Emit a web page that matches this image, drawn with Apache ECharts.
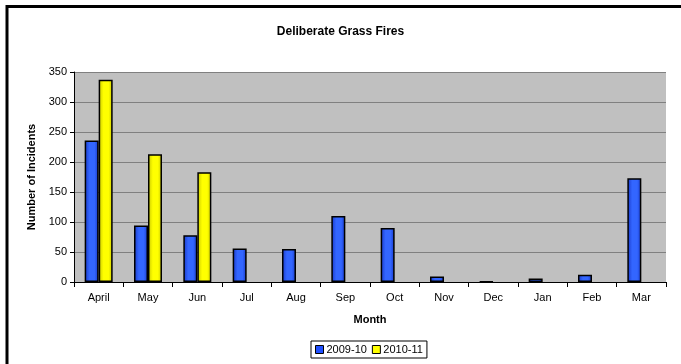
<!DOCTYPE html>
<html>
<head>
<meta charset="utf-8">
<script src="https://cdn.jsdelivr.net/npm/echarts@6/dist/echarts.min.js"></script>
<style>
html, body { margin: 0; padding: 0; background: #fff; }
#chart { width: 681px; height: 364px; }
</style>
</head>
<body>
<div id="chart"></div>
<script>
const months = ['April', 'May', 'Jun', 'Jul', 'Aug', 'Sep', 'Oct', 'Nov', 'Dec', 'Jan', 'Feb', 'Mar'];
const fires0910 = [236, 94, 78, 56, 55, 110, 90, 9, 1, 6, 12, 173];
const fires1011 = [337, 213, 183, null, null, null, null, null, null, null, null, null];
const yTicks = [0, 50, 100, 150, 200, 250, 300, 350];

const font = 'Arial, "Liberation Sans", sans-serif';
let chart = echarts.init(document.getElementById('chart'));

function shade(dark, light) {
    return new echarts.graphic.LinearGradient(0, 0, 1, 0, [
        { offset: 0, color: dark },
        { offset: 0.35, color: light },
        { offset: 0.7, color: light },
        { offset: 1, color: dark }
    ]);
}

let option = {
    animation: false,
    title: {
        text: 'Deliberate Grass Fires',
        left: 'center',
        top: 21,
        textStyle: { fontFamily: font, fontSize: 12, fontWeight: 'bold', color: '#000' }
    },
    graphic: [{
        type: 'rect',
        shape: { x: 7, y: 6.5, width: 680, height: 400 },
        style: { fill: 'none', stroke: '#000', lineWidth: 3 },
        silent: true
    }],
    legend: {
        bottom: 6,
        left: 311,
        itemWidth: 8,
        itemHeight: 8,
        itemGap: 5,
        padding: [3, 4],
        borderColor: '#000',
        borderWidth: 1,
        icon: 'rect',
        textStyle: { fontFamily: font, fontSize: 11, color: '#000', padding: [0, 0, 0, -2] },
        data: [
            { name: '2009-10', itemStyle: { color: '#2050ff', borderColor: '#000', borderWidth: 1 } },
            { name: '2010-11', itemStyle: { color: '#ffff00', borderColor: '#000', borderWidth: 1 } }
        ]
    },
    grid: { left: 74, right: 15, top: 72, bottom: 82, backgroundColor: '#c0c0c0', show: true, borderWidth: 0 },
    xAxis: {
        type: 'category',
        data: months,
        name: 'Month',
        nameLocation: 'middle',
        nameGap: 32,
        nameTextStyle: { fontFamily: font, fontSize: 11, fontWeight: 'bold', color: '#000' },
        axisLine: { lineStyle: { color: '#000', width: 1 } },
        axisTick: { show: true, length: 5, inside: false, lineStyle: { color: '#000' } },
        axisLabel: { fontFamily: font, fontSize: 11, color: '#000', margin: 10 }
    },
    yAxis: {
        type: 'value',
        min: yTicks[0],
        max: yTicks[yTicks.length - 1],
        interval: 50,
        name: 'Number of Incidents',
        nameLocation: 'middle',
        nameGap: 37,
        nameTextStyle: { fontFamily: font, fontSize: 11, fontWeight: 'bold', color: '#000' },
        axisLine: { show: true, lineStyle: { color: '#000', width: 1 } },
        axisTick: { show: true, length: 4, lineStyle: { color: '#000' } },
        axisLabel: { fontFamily: font, fontSize: 11, color: '#000', margin: 7 },
        splitLine: { lineStyle: { color: '#808080', width: 1 } }
    },
    series: [{
        name: '2009-10',
        type: 'bar',
        data: fires0910,
        barWidth: 14,
        barGap: '0%',
        itemStyle: { color: shade('#1838c8', '#3366ff'), borderColor: '#000', borderWidth: 1.5 }
    }, {
        name: '2010-11',
        type: 'bar',
        data: fires1011,
        barWidth: 14,
        itemStyle: { color: shade('#c8c800', '#ffff00'), borderColor: '#000', borderWidth: 1.5 }
    }]
};

chart.setOption(option);
</script>
</body>
</html>
